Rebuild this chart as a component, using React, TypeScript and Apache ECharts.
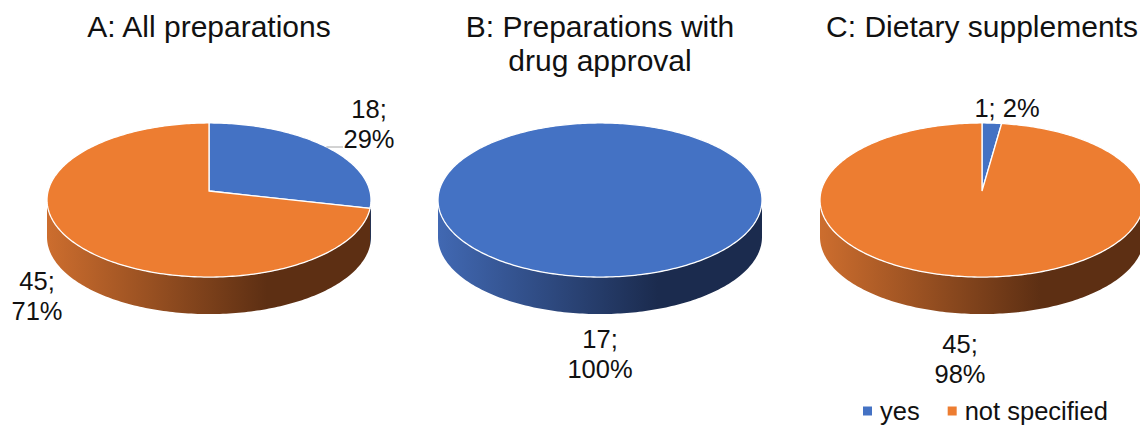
import React, { useEffect, useRef } from "react";
import * as echarts from "echarts";

// ---- data ----
const panelTitles = [
  "A: All preparations",
  "B: Preparations with\ndrug approval",
  "C: Dietary supplements",
];
const categories = ["yes", "not specified"];
const yesCounts = [18, 17, 1];
const notSpecifiedCounts = [45, 0, 45];
const seriesValues = [yesCounts, notSpecifiedCounts];

// ---- styling / layout ----
const topColors = ["#4472C4", "#ED7D31"];
const sideStops = [
  ["#4168B2", "#1B2B4E"],
  ["#CC6D2E", "#5D2F13"],
];
const FONT = "'Liberation Sans', Arial, sans-serif";
const pieCenterX = [209, 600, 982];
const PIE_CY = 200; // visual centre of the tilted disc
const APEX_Y = 191; // where the disc centre projects (perspective)
const K = 0.117; // perspective strength
const HALF_W = 162 * Math.sqrt(1 - K * K);
const HALF_H = 76;
const DEPTH = 37;

// label placement relative to each pie centre: [pie][category]
const labelLayout = [
  [
    { dx: 160, dy: -76, inline: false, leader: true },
    { dx: -172, dy: 96, inline: false, leader: false },
  ],
  [
    { dx: 0, dy: 154, inline: false, leader: false },
    { dx: 0, dy: 0, inline: false, leader: false },
  ],
  [
    { dx: 25, dy: -92, inline: true, leader: false },
    { dx: -22, dy: 159, inline: false, leader: false },
  ],
];
const LABEL_SIZE = 25.5;
const LABEL_LH = 30;

const TAU = Math.PI * 2;

// angle measured clockwise from 12 o'clock, projected with a mild perspective
function rimPoint(cx: number, a: number, dy = 0): number[] {
  const u = Math.sin(a);
  const v = -Math.cos(a);
  const w = 1 - K * v;
  return [cx + (HALF_W * u) / w, APEX_Y + (HALF_H * v) / w + dy];
}

function arcPoints(cx: number, a0: number, a1: number, dy = 0): number[][] {
  const pts: number[][] = [];
  const steps = Math.max(2, Math.ceil(((a1 - a0) / TAU) * 360));
  for (let i = 0; i <= steps; i++) {
    pts.push(rimPoint(cx, a0 + ((a1 - a0) * i) / steps, dy));
  }
  return pts;
}

// rim x on the right-hand upper quarter at a given screen y
function rimXAtY(cx: number, y: number): number {
  let best = rimPoint(cx, 0);
  for (let i = 0; i <= 400; i++) {
    const p = rimPoint(cx, (Math.PI / 2) * (i / 400));
    if (Math.abs(p[1] - y) < Math.abs(best[1] - y)) best = p;
  }
  return best[0];
}

function renderSlice(params: any, api: any) {
  const cat = params.seriesIndex;
  const pie = params.dataIndex;
  const value = seriesValues[cat][pie];
  if (!value) return { type: "group", children: [] };

  let total = 0;
  let before = 0;
  seriesValues.forEach((vals, i) => {
    total += vals[pie];
    if (i < cat) before += vals[pie];
  });
  const a0 = (before / total) * TAU;
  const a1 = ((before + value) / total) * TAU;
  const cx = pieCenterX[pie];
  const full = value === total;

  const children: any[] = [];

  // outer wall: only the part of the rim facing the viewer
  const edge = Math.acos(-K);
  const s0 = Math.max(a0, edge);
  const s1 = Math.min(a1, TAU - edge);
  if (s1 > s0) {
    const top = arcPoints(cx, s0, s1, 0);
    const bottom = arcPoints(cx, s0, s1, DEPTH).reverse();
    children.push({
      type: "polygon",
      shape: { points: top.concat(bottom) },
      style: {
        fill: new echarts.graphic.LinearGradient(
          cx - HALF_W, 0, cx + HALF_W, 0,
          [
            { offset: 0, color: sideStops[cat][0] },
            { offset: 0.68, color: sideStops[cat][1] },
            { offset: 1, color: sideStops[cat][1] },
          ],
          true
        ),
      },
    });
  }

  // top face
  const face = full
    ? arcPoints(cx, 0, TAU, 0)
    : [[cx, APEX_Y]].concat(arcPoints(cx, a0, a1, 0));
  children.push({
    type: "polygon",
    shape: { points: face },
    style: { fill: topColors[cat], stroke: "#ffffff", lineWidth: 1.3 },
  });

  // data label
  const lay = labelLayout[pie][cat];
  const pct = Math.round((value / total) * 100);
  const text = lay.inline ? `${value}; ${pct}%` : `${value};\n${pct}%`;
  const lx = cx + lay.dx;
  const ly = PIE_CY + lay.dy;
  children.push({
    type: "text",
    x: lx,
    y: ly,
    style: {
      text,
      fill: "#111111",
      fontSize: LABEL_SIZE,
      fontFamily: FONT,
      align: "center",
      verticalAlign: "middle",
      lineHeight: LABEL_LH,
    },
  });

  if (lay.leader) {
    const yy = ly + LABEL_LH / 2 + 8;
    const startX = rimXAtY(cx, yy);
    const endX = lx - 26;
    if (endX > startX) {
      children.push({
        type: "line",
        shape: { x1: startX, y1: yy, x2: endX, y2: yy },
        style: { stroke: "#A6A6A6", lineWidth: 1 },
      });
    }
  }

  return { type: "group", children };
}

export default function App() {
  const ref = useRef<HTMLDivElement>(null);

  useEffect(() => {
    if (!ref.current) return;
    const chart = echarts.init(ref.current, undefined, { renderer: "svg" });
    chart.setOption({
      animation: false,
      backgroundColor: "#ffffff",
      title: panelTitles.map((t, i) => ({
        text: t,
        left: pieCenterX[i],
        top: 9,
        textAlign: "center",
        padding: 0,
        textStyle: {
          fontSize: 30,
          fontWeight: "normal",
          fontFamily: FONT,
          color: "#111111",
          lineHeight: 34,
        },
      })),
      legend: {
        data: categories,
        left: 863,
        top: 398,
        icon: "rect",
        itemWidth: 9,
        itemHeight: 9,
        itemGap: 28,
        padding: 0,
        textStyle: {
          fontSize: LABEL_SIZE,
          fontFamily: FONT,
          color: "#111111",
          padding: [0, 0, 0, 3],
        },
      },
      series: categories.map((name, i) => ({
        type: "custom",
        name,
        coordinateSystem: "none",
        data: seriesValues[i],
        itemStyle: { color: topColors[i] },
        renderItem: renderSlice,
      })),
    });
    return () => chart.dispose();
  }, []);

  return (
    <div
      ref={ref}
      style={{ position: "fixed", left: 0, top: 0, width: 1140, height: 425 }}
    />
  );
}
